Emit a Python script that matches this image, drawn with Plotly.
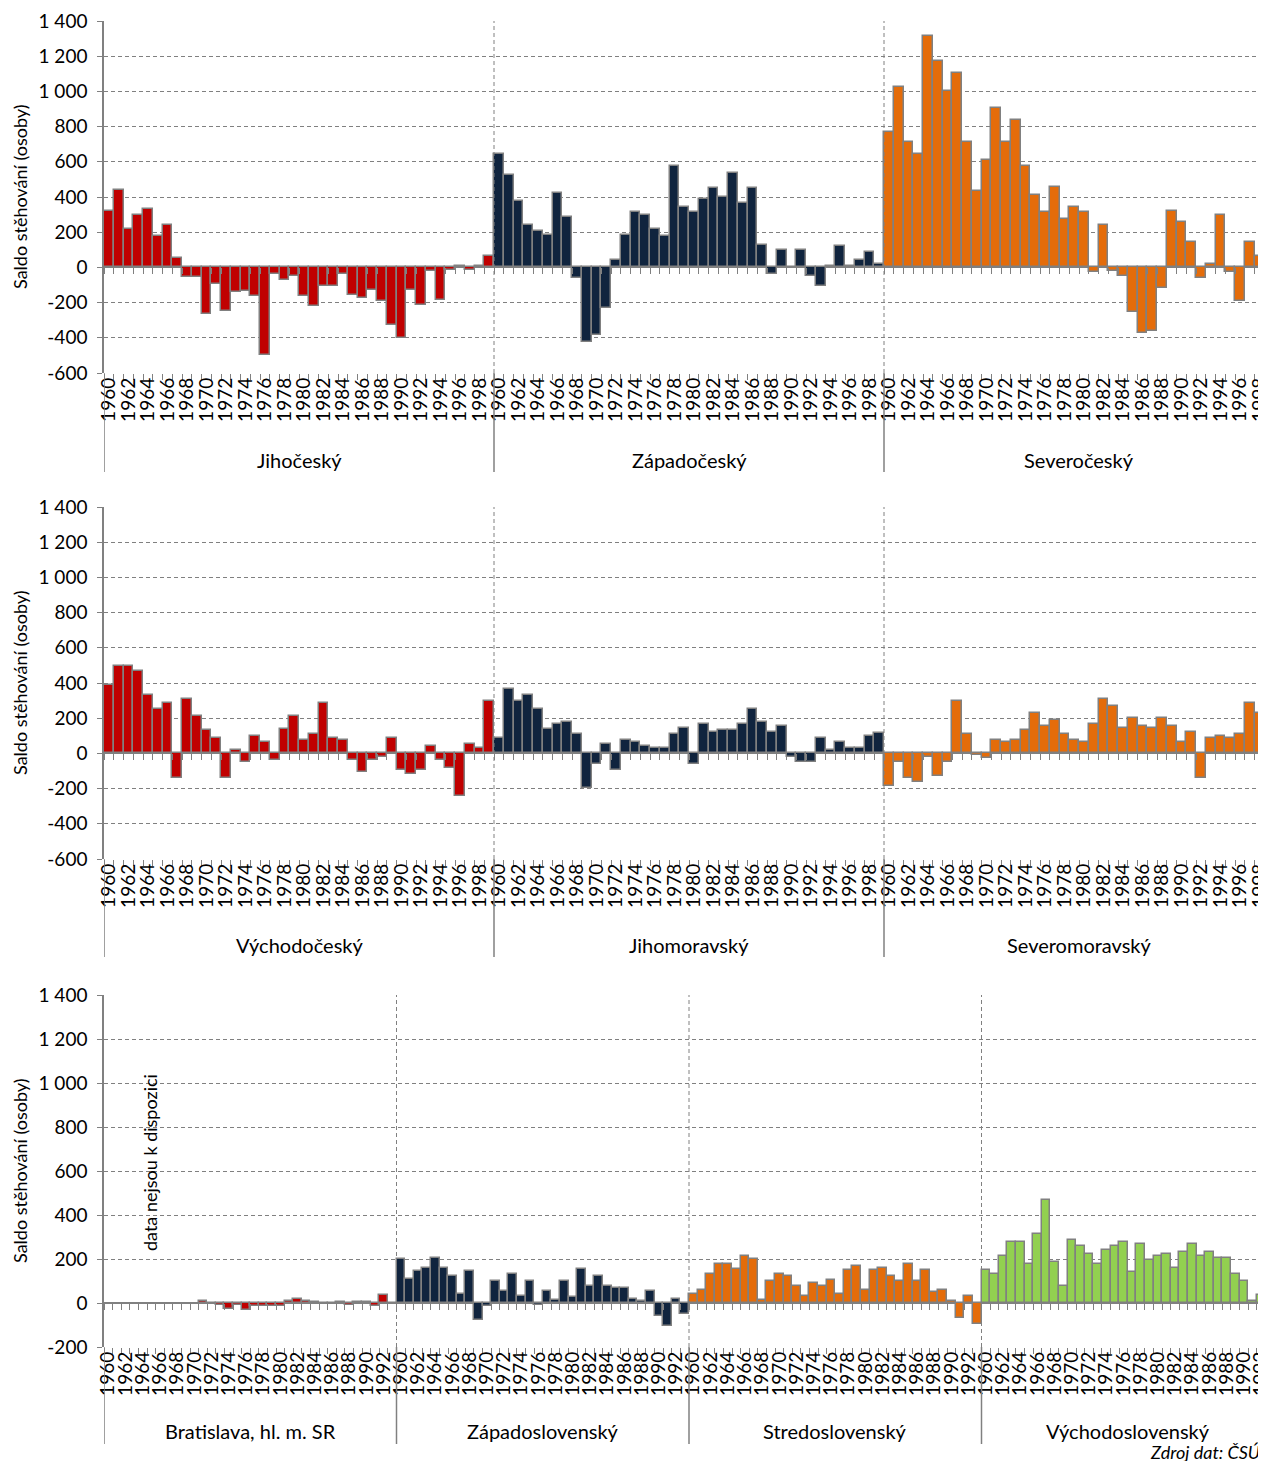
import plotly.graph_objects as go

# roky na ose x
roky_cz = list(range(1960, 2000))
roky_sk = list(range(1960, 1994))

# saldo stehovani (osoby)
jihocesky = [320, 440, 220, 300, 330, 177, 243, 53, -57, -57,
             -266, -93, -247, -142, -133, -161, -497, -38, -74, -51,
             -161, -218, -104, -104, -38, -156, -175, -127, -190, -327,
             -399, -131, -213, -19, -188, -13, 9, -13, 9, 63]
zapadocesky = [645, 524, 380, 243, 205, 186, 423, 287, -61, -421,
               -384, -232, 44, 186, 313, 300, 220, 177, 579, 344,
               313, 389, 452, 399, 534, 366, 452, 129, -38, 101,
               5, 101, -51, -108, 9, 120, 9, 44, 87, 19]
severocesky = [769, 1025, 712, 645, 1316, 1170, 1002, 1103, 712, 433,
               609, 904, 712, 835, 579, 410, 313, 456, 277, 344,
               313, -28, 243, -20, -47, -251, -370, -361, -118, 323,
               258, 142, -61, 19, 300, -28, -190, 142, 63, 87]
vychodocesky = [387, 497, 497, 469, 332, 254, 287, -142, 307, 213,
                131, 85, -142, 19, -49, 97, 65, -38, 140, 213,
                74, 108, 287, 85, 74, -38, -104, -38, -21, 85,
                -95, -116, -95, 42, -38, -82, -243, 55, 28, 298]
jihomoravsky = [85, 368, 298, 332, 254, 140, 165, 176, 112, -195,
                -59, 55, -93, 76, 65, 42, 28, 28, 112, 142,
                -59, 165, 121, 131, 131, 165, 254, 176, 121, 156,
                -21, -47, -47, 85, 19, 65, 28, 28, 99, 118]
severomoravsky = [-186, -47, -142, -161, -19, -129, -47, 298, 112, -10,
                  -25, 76, 65, 76, 133, 231, 156, 188, 112, 76,
                  65, 165, 311, 268, 142, 199, 156, 142, 199, 156,
                  65, 121, -142, 85, 99, 85, 112, 288, 231, 355]
bratislava = [None, None, None, None, None, None, None, None, None, None,
              None, 10, -5, -10, -25, -10, -30, -15, -15, -15,
              -15, 10, 18, 8, 5, -5, -5, 5, -10, 5,
              5, -15, 35, 0]
zapadoslovensky = [198, 107, 145, 160, 203, 160, 125, 41, 145, -76,
                   -15, 99, 53, 133, 34, 99, -10, 53, 15, 99,
                   26, 153, 79, 125, 79, 69, 69, 18, 11, 53,
                   -58, -104, 18, -49]
stredoslovensky = [41, 61, 133, 179, 179, 153, 214, 198, 15, 99,
                   133, 122, 79, 34, 89, 79, 104, 41, 150, 168,
                   61, 150, 157, 122, 99, 179, 99, 150, 50, 61,
                   8, -69, 34, -96]
vychodoslovensky = [150, 133, 214, 278, 278, 179, 313, 466, 188, 76,
                    285, 260, 224, 179, 241, 260, 278, 142, 270, 195,
                    214, 224, 160, 234, 270, 214, 234, 203, 203, 133,
                    99, 11, 35, None]

W, H = 1266, 1461
OFF = 8          # okraj stranky (body margin) v prohlizeci
LEFT = 104
SEDA = '#808080'
FONT = 'Lato, Carlito, Calibri, sans-serif'


def px(pix):
    return (pix - OFF) / W


def py(pix):
    return 1 - (pix - OFF) / H


panely = [
    dict(kraje=['Jihočeský', 'Západočeský', 'Severočeský'],
         hodnoty=[jihocesky, zapadocesky, severocesky],
         barvy=['#C00000', '#10243E', '#E46C0A'],
         roky=roky_cz, top=21, bottom=373, ymin=-600, popisek=460, konec=472),
    dict(kraje=['Východočeský', 'Jihomoravský', 'Severomoravský'],
         hodnoty=[vychodocesky, jihomoravsky, severomoravsky],
         barvy=['#C00000', '#10243E', '#E46C0A'],
         roky=roky_cz, top=507, bottom=859, ymin=-600, popisek=945, konec=957),
    dict(kraje=['Bratislava, hl. m. SR', 'Západoslovenský', 'Stredoslovenský', 'Východoslovenský'],
         hodnoty=[bratislava, zapadoslovensky, stredoslovensky, vychodoslovensky],
         barvy=['#C00000', '#10243E', '#E46C0A', '#92D050'],
         roky=roky_sk, top=995, bottom=1347, ymin=-200, popisek=1431, konec=1444),
]

fig = go.Figure()
layout = {}
shapes = []
annotations = []

for k, p in enumerate(panely, start=1):
    xa = 'x' if k == 1 else f'x{k}'
    ya = 'y' if k == 1 else f'y{k}'
    xz = f'x{k + 3}'
    n = len(p['roky'])
    celkem = n * len(p['kraje'])
    xmax = celkem - 0.5
    dom = [py(p['bottom']), py(p['top'])]

    for g, (kraj, vals, barva) in enumerate(zip(p['kraje'], p['hodnoty'], p['barvy'])):
        fig.add_trace(go.Bar(
            x=[g * n + i for i in range(n)], y=vals, xaxis=xa, yaxis=ya,
            marker=dict(color=barva, line=dict(color=SEDA, width=1.5)),
            width=1, showlegend=False, name=kraj))
        annotations.append(dict(text=kraj, x=g * n + (n - 1) / 2, xref=xa,
                                y=py(p['popisek']), yref='paper', showarrow=False,
                                xanchor='center', yanchor='middle',
                                font=dict(size=20)))
        b = g * n - 0.5
        if g > 0:
            shapes.append(dict(type='line', xref=xa, yref='paper', x0=b, x1=b,
                               y0=dom[0], y1=dom[1],
                               line=dict(color=SEDA, width=1, dash='4px,3px')))
        shapes.append(dict(type='line', xref=xa, yref='paper', x0=b, x1=b,
                           y0=py(p['konec']), y1=dom[0],
                           line=dict(color=SEDA, width=1.5)))

    tickvals = [g * n + i for g in range(len(p['kraje'])) for i in range(0, n, 2)]
    ticktext = [str(p['roky'][i]) for g in range(len(p['kraje'])) for i in range(0, n, 2)]
    hranice = [i + 0.5 for i in range(-1, celkem)]
    yvals = list(range(p['ymin'], 1401, 200))
    ytext = [f'{v:,}'.replace(',', ' ') for v in yvals]

    key = 'xaxis' if k == 1 else f'xaxis{k}'
    layout[key] = dict(domain=[px(LEFT), 1], range=[-0.5, xmax], anchor=ya,
                       automargin=False,
                       tickmode='array', tickvals=tickvals, ticktext=ticktext,
                       tickangle=-90, ticks='', showgrid=False, zeroline=False,
                       showline=False, tickfont=dict(size=19),
                       minor=dict(tickmode='array', tickvals=hranice, ticks='outside',
                                  ticklen=6, tickcolor=SEDA, showgrid=False))
    key = 'yaxis' if k == 1 else f'yaxis{k}'
    layout[key] = dict(domain=dom, range=[p['ymin'], 1400], anchor=xa,
                       automargin=False,
                       tickmode='array', tickvals=yvals, ticktext=ytext,
                       showline=True, linecolor=SEDA, linewidth=1.5,
                       ticks='outside', ticklen=5, tickcolor=SEDA,
                       showgrid=True, gridcolor=SEDA, griddash='4px,3px', gridwidth=1,
                       zeroline=True, zerolinecolor=SEDA, zerolinewidth=1.5,
                       tickfont=dict(size=19), ticklabelstandoff=6)
    nula = dom[0] + (0 - p['ymin']) / (1400 - p['ymin']) * (dom[1] - dom[0])
    layout[f'xaxis{k + 3}'] = dict(overlaying=xa, anchor='free', position=nula,
                                   automargin=False,
                                   range=[-0.5, xmax], tickmode='array', tickvals=hranice,
                                   ticks='outside', ticklen=6, tickcolor=SEDA,
                                   showticklabels=False, showgrid=False,
                                   zeroline=False, showline=False)
    fig.add_trace(go.Scatter(x=[None], y=[None], xaxis=xz, yaxis=ya,
                             showlegend=False, hoverinfo='skip'))

    annotations.append(dict(text='Saldo stěhování (osoby)', textangle=-90,
                            x=px(20), xref='paper', y=(dom[0] + dom[1]) / 2, yref='paper',
                            xanchor='center', yanchor='middle',
                            showarrow=False, font=dict(size=18)))

annotations.append(dict(text='data nejsou k dispozici', textangle=-90,
                        x=px(150), xref='paper', y=py(1163), yref='paper',
                        xanchor='center', yanchor='middle',
                        showarrow=False, font=dict(size=18)))
annotations.append(dict(text='<i>Zdroj dat: ČSÚ</i>', x=px(1262), xref='paper',
                        xanchor='right', y=py(1452), yref='paper', yanchor='middle',
                        showarrow=False, font=dict(size=18)))

fig.update_layout(
    width=W, height=H, autosize=False,
    margin=dict(l=0, r=0, t=0, b=0),
    paper_bgcolor='white', plot_bgcolor='white',
    font=dict(family=FONT, size=18, color='black'),
    barmode='overlay', bargap=0,
    shapes=shapes, annotations=annotations,
    **layout)

fig.write_html("out.html")
